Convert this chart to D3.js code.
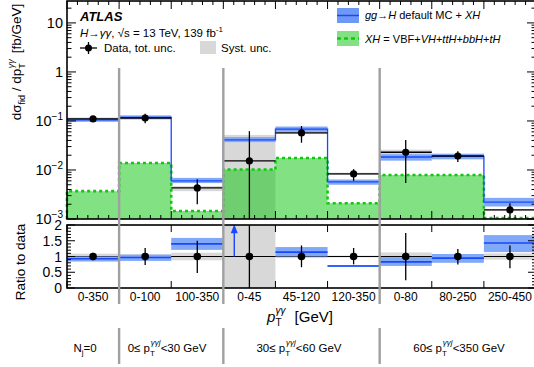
<!DOCTYPE html>
<html>
<head>
<meta charset="utf-8">
<script src="https://cdn.jsdelivr.net/npm/d3@7"></script>
<style>
  body { margin: 0; background: #fff; }
  text { font-family: "Liberation Sans", Arial, Helvetica, sans-serif; fill: #000; }
</style>
</head>
<body>
<div id="svg-container"></div>
<script>
/// DATA

const binLabels = ["0-350", "0-100", "100-350", "0-45", "45-120", "120-350", "0-80", "80-250", "250-450"]
const groupEdges = [1, 3, 6]

const dataVal = [0.11, 0.115, 0.0043, 0.0153, 0.057, 0.0083, 0.023, 0.0193, 0.00153]
const dataUp = [0.122, 0.14, 0.0065, 0.062, 0.079, 0.0104, 0.041, 0.024, 0.0021]
const dataDn = [0.099, 0.09, 0.002, 0.001, 0.036, 0.006, 0.0054, 0.0146, 0.00105]
const systLo = [0.102, 0.108, 0.0037, 0.001, 0.054, 0.0079, 0.0203, 0.0185, 0.00145]
const systHi = [0.118, 0.124, 0.0047, 0.052, 0.061, 0.0088, 0.026, 0.0202, 0.0016]

const predVal = [0.105, 0.118, 0.006, 0.041, 0.068, 0.0057, 0.0184, 0.019, 0.0022]
const predLo = [0.096, 0.108, 0.0054, 0.037, 0.06, 0.005, 0.0155, 0.0165, 0.0018]
const predHi = [0.114, 0.13, 0.0069, 0.047, 0.077, 0.0064, 0.021, 0.0215, 0.0027]

const xhVal = [0.0037, 0.0139, 0.00146, 0.0102, 0.0176, 0.0021, 0.0079, 0.0079, 0.00105]

const ratioPred = [0.93, 0.97, 1.4, null, 1.14, 0.7, 0.83, 0.95, 1.43]
const ratioPredLo = [0.84, 0.86, 1.21, null, 1.0, 0.67, 0.7, 0.8, 1.14]
const ratioPredHi = [1.0, 1.06, 1.59, null, 1.3, 0.73, 0.98, 1.08, 1.68]
const ratioDataLo = [0.88, 0.73, 0.48, 0, 0.66, 0.75, 0.25, 0.75, 0.63]
const ratioDataHi = [1.12, 1.27, 1.5, 2, 1.35, 1.27, 1.75, 1.24, 1.35]
const ratioSystLo = [0.91, 0.93, 0.88, 0, 0.95, 0.97, 0.87, 0.96, 0.9]
const ratioSystHi = [1.09, 1.07, 1.12, 2, 1.05, 1.03, 1.13, 1.04, 1.1]

const yMainTicks = [0.001, 0.01, 0.1, 1, 10]
const yRatioTicks = [0, 0.5, 1, 1.5, 2]

const width = 534
const height = 367

const blueFill = "#82a9f8"
const blueLine = "#1848ff"
const greenFill = "#82e182"
const greenLine = "#10c810"
const grayFill = "#d8d8d8"
const sepColor = "#a0a0a0"

/// SCALES

const xScale = d3.scaleLinear().domain([0, 9]).range([67, 536])
const yMain = d3.scaleLog().domain([0.001, 28]).range([219, 1])
const yRatio = d3.scaleLinear().domain([0, 2]).range([288, 225])

const svg = d3
  .select("#svg-container")
  .append("svg")
  .attr("width", width)
  .attr("height", height)
  .attr("viewBox", [0, 0, width, height])

const bins = d3.range(9)

/// MAIN PANEL

const main = svg.append("g")

// step points: one per bin plus closing point
const stepPoints = (vals) => bins.map((i) => [i, vals[i]]).concat([[9, vals[8]]])

// systematic bands first, the green goes over them with transparency
main
  .selectAll(".syst")
  .data(bins)
  .join("rect")
  .attr("x", (i) => xScale(i))
  .attr("width", xScale(1) - xScale(0))
  .attr("y", (i) => yMain(systHi[i]))
  .attr("height", (i) => yMain(systLo[i]) - yMain(systHi[i]))
  .attr("fill", grayFill)

const greenArea = d3
  .area()
  .curve(d3.curveStepAfter)
  .x((d) => xScale(d[0]))
  .y0(yMain(0.001))
  .y1((d) => yMain(d[1]))

main
  .append("path")
  .attr("d", greenArea(stepPoints(xhVal)))
  .attr("fill", "rgb(5,195,5)")
  .attr("fill-opacity", 0.5)

const greenOutline = [[0, 0.001]].concat(stepPoints(xhVal)).concat([[9, 0.001]])
const stepLine = d3
  .line()
  .curve(d3.curveStepAfter)
  .x((d) => xScale(d[0]))
  .y((d) => yMain(d[1]))

main
  .append("path")
  .attr("d", stepLine(greenOutline))
  .attr("fill", "none")
  .attr("stroke", greenLine)
  .attr("stroke-width", 2.6)
  .attr("stroke-dasharray", "3,3")

main
  .selectAll(".predband")
  .data(bins)
  .join("rect")
  .attr("x", (i) => xScale(i))
  .attr("width", xScale(1) - xScale(0))
  .attr("y", (i) => yMain(predHi[i]))
  .attr("height", (i) => yMain(predLo[i]) - yMain(predHi[i]))
  .attr("fill", blueFill)

main
  .append("path")
  .attr("d", stepLine(stepPoints(predVal)))
  .attr("fill", "none")
  .attr("stroke", blueLine)
  .attr("stroke-width", 1.3)

// data
main
  .selectAll(".dx")
  .data(bins)
  .join("line")
  .attr("x1", (i) => xScale(i))
  .attr("x2", (i) => xScale(i + 1))
  .attr("y1", (i) => yMain(dataVal[i]))
  .attr("y2", (i) => yMain(dataVal[i]))
  .attr("stroke", "#000")
  .attr("stroke-width", 1.3)

main
  .selectAll(".dy")
  .data(bins)
  .join("line")
  .attr("x1", (i) => xScale(i + 0.5))
  .attr("x2", (i) => xScale(i + 0.5))
  .attr("y1", (i) => yMain(dataUp[i]))
  .attr("y2", (i) => yMain(dataDn[i]))
  .attr("stroke", "#000")
  .attr("stroke-width", 1.3)

main
  .selectAll(".dot")
  .data(bins)
  .join("circle")
  .attr("cx", (i) => xScale(i + 0.5))
  .attr("cy", (i) => yMain(dataVal[i]))
  .attr("r", 3.6)
  .attr("fill", "#000")

/// RATIO PANEL

const ratio = svg.append("g")

ratio
  .selectAll(".rsyst")
  .data(bins)
  .join("rect")
  .attr("x", (i) => xScale(i))
  .attr("width", xScale(1) - xScale(0))
  .attr("y", (i) => yRatio(ratioSystHi[i]))
  .attr("height", (i) => yRatio(ratioSystLo[i]) - yRatio(ratioSystHi[i]))
  .attr("fill", grayFill)

ratio
  .append("line")
  .attr("x1", xScale(0))
  .attr("x2", xScale(9))
  .attr("y1", yRatio(1))
  .attr("y2", yRatio(1))
  .attr("stroke", "#000")
  .attr("stroke-width", 1.2)

const rbins = bins.filter((i) => ratioPred[i] !== null)

ratio
  .selectAll(".rband")
  .data(rbins)
  .join("rect")
  .attr("x", (i) => xScale(i))
  .attr("width", xScale(1) - xScale(0))
  .attr("y", (i) => yRatio(ratioPredHi[i]))
  .attr("height", (i) => yRatio(ratioPredLo[i]) - yRatio(ratioPredHi[i]))
  .attr("fill", blueFill)

ratio
  .selectAll(".rline")
  .data(rbins)
  .join("line")
  .attr("x1", (i) => xScale(i))
  .attr("x2", (i) => xScale(i + 1))
  .attr("y1", (i) => yRatio(ratioPred[i]))
  .attr("y2", (i) => yRatio(ratioPred[i]))
  .attr("stroke", blueLine)
  .attr("stroke-width", 1.6)

// off-scale arrow for bin 0-45
const arrowBin = bins.filter((i) => ratioPred[i] === null)
ratio
  .selectAll(".arrow")
  .data(arrowBin)
  .join("line")
  .attr("x1", (i) => xScale(i + 0.21))
  .attr("x2", (i) => xScale(i + 0.21))
  .attr("y1", yRatio(1))
  .attr("y2", yRatio(1.88))
  .attr("stroke", blueLine)
  .attr("stroke-width", 1.4)
ratio
  .selectAll(".arrowhead")
  .data(arrowBin)
  .join("path")
  .attr("d", (i) => {
    const x = xScale(i + 0.21)
    const y = yRatio(1.96)
    return `M${x},${y - 2} L${x - 3.5},${y + 7} L${x + 3.5},${y + 7} Z`
  })
  .attr("fill", blueLine)

ratio
  .selectAll(".rdy")
  .data(bins)
  .join("line")
  .attr("x1", (i) => xScale(i + 0.5))
  .attr("x2", (i) => xScale(i + 0.5))
  .attr("y1", (i) => yRatio(ratioDataHi[i]))
  .attr("y2", (i) => yRatio(ratioDataLo[i]))
  .attr("stroke", "#000")
  .attr("stroke-width", 1.3)

ratio
  .selectAll(".rdot")
  .data(bins)
  .join("circle")
  .attr("cx", (i) => xScale(i + 0.5))
  .attr("cy", yRatio(1))
  .attr("r", 3.8)
  .attr("fill", "#000")

/// AXES AND FRAMES

const axes = svg.append("g").attr("stroke", "#000")

const frame = (y0, y1) =>
  axes
    .append("rect")
    .attr("x", xScale(0))
    .attr("y", y0)
    .attr("width", xScale(9) - xScale(0))
    .attr("height", y1 - y0)
    .attr("fill", "none")
    .attr("stroke-width", 1.6)

frame(yMain.range()[1], yMain.range()[0])
frame(yRatio.range()[1], yRatio.range()[0])

const tick = (x1, y1, x2, y2, w) =>
  axes
    .append("line")
    .attr("x1", x1)
    .attr("y1", y1)
    .attr("x2", x2)
    .attr("y2", y2)
    .attr("stroke-width", w || 1)

// x ticks on main panel (top and bottom) and ratio panel
d3.range(0, 9.01, 0.2).forEach((v) => {
  const x = xScale(v)
  const major = Math.abs(v - Math.round(v)) < 0.01
  const len = major ? 8 : 4
  tick(x, yMain(0.001), x, yMain(0.001) - len)
  tick(x, yMain.range()[1], x, yMain.range()[1] + len)
  if (major) {
    tick(x, yRatio(0), x, yRatio(0) - 7)
    tick(x, yRatio(2), x, yRatio(2) + 7)
  }
})

// log y ticks
d3.range(-3, 2).forEach((d) => {
  d3.range(1, 10).forEach((k) => {
    const v = k * Math.pow(10, d)
    if (v > yMain.domain()[1]) return
    const len = k === 1 ? 9 : 4.5
    tick(xScale(0), yMain(v), xScale(0) + len, yMain(v))
    tick(xScale(9), yMain(v), xScale(9) - len, yMain(v))
  })
})

// ratio y ticks
d3.range(0, 2.001, 0.1).forEach((v) => {
  const major = Math.abs(v * 2 - Math.round(v * 2)) < 0.01
  const len = major ? 8 : 4
  tick(xScale(0), yRatio(v), xScale(0) + len, yRatio(v))
  tick(xScale(9), yRatio(v), xScale(9) - len, yRatio(v))
})

const labels = svg.append("g")

const mainTickLabels = labels
  .selectAll(".ylab")
  .data(yMainTicks)
  .join("text")
  .attr("x", 63)
  .attr("y", (v) => yMain(v) + 5)
  .attr("text-anchor", "end")
  .style("font-size", "14.5px")
mainTickLabels.each(function (v) {
  const t = d3.select(this)
  if (v === 1 || v === 10) {
    t.text(v)
  } else {
    t.append("tspan").text("10")
    t.append("tspan")
      .attr("dy", -6)
      .style("font-size", "10px")
      .text("\u2212" + Math.round(-Math.log10(v)))
  }
})

labels
  .selectAll(".rlab")
  .data(yRatioTicks)
  .join("text")
  .attr("x", 62)
  .attr("y", (v) => yRatio(v) + 5)
  .attr("text-anchor", "end")
  .style("font-size", "14px")
  .text((v) => v)

labels
  .selectAll(".xlab")
  .data(bins)
  .join("text")
  .attr("x", (i) => xScale(i + 0.5))
  .attr("y", 301)
  .attr("text-anchor", "middle")
  .style("font-size", "12px")
  .text((i) => binLabels[i])

// y axis titles
const yTitle = labels
  .append("text")
  .attr("transform", "translate(21,62) rotate(-90)")
  .attr("text-anchor", "middle")
  .style("font-size", "13.5px")
yTitle.append("tspan").text("d\u03c3")
yTitle.append("tspan").attr("dy", 4).style("font-size", "9px").text("fid")
yTitle.append("tspan").attr("dy", -4).text(" / dp")
yTitle.append("tspan").attr("dy", 4).style("font-size", "9px").text("T")
yTitle
  .append("tspan")
  .attr("dy", -11)
  .attr("dx", -5)
  .style("font-size", "9px")
  .style("font-style", "italic")
  .text("\u03b3\u03b3")
yTitle.append("tspan").attr("dy", 7).attr("dx", 6).text("[fb/GeV]")

labels
  .append("text")
  .attr("transform", "translate(25,262) rotate(-90)")
  .attr("text-anchor", "middle")
  .style("font-size", "13.5px")
  .text("Ratio to data")

// x title
const xTitle = labels
  .append("text")
  .attr("x", 300)
  .attr("y", 322)
  .attr("text-anchor", "middle")
  .style("font-size", "15px")
xTitle.append("tspan").style("font-style", "italic").text("p")
xTitle.append("tspan").attr("dy", 4).style("font-size", "10px").text("T")
xTitle
  .append("tspan")
  .attr("dy", -12)
  .attr("dx", -6)
  .style("font-size", "10px")
  .style("font-style", "italic")
  .text("\u03b3\u03b3")
xTitle.append("tspan").attr("dy", 8).attr("dx", 9).text("[GeV]")

/// GROUP SEPARATORS

groupEdges.forEach((e) => {
  svg
    .append("line")
    .attr("x1", xScale(e))
    .attr("x2", xScale(e))
    .attr("y1", 68)
    .attr("y2", 304)
    .attr("stroke", sepColor)
    .attr("stroke-width", 2.4)
  svg
    .append("line")
    .attr("x1", xScale(e))
    .attr("x2", xScale(e))
    .attr("y1", 328)
    .attr("y2", 364)
    .attr("stroke", sepColor)
    .attr("stroke-width", 2.4)
})

// category labels under the axis
const catX = [85, 167, 299, 459]
const catY = 352
const cat0 = labels
  .append("text")
  .attr("x", catX[0])
  .attr("y", catY)
  .attr("text-anchor", "middle")
  .style("font-size", "11.5px")
cat0.append("tspan").text("N")
cat0.append("tspan").attr("dy", 3).style("font-size", "8px").text("j")
cat0.append("tspan").attr("dy", -3).text("=0")

const rangeLabel = (x, lo, hi) => {
  const t = labels
    .append("text")
    .attr("x", x)
    .attr("y", catY)
    .attr("text-anchor", "middle")
    .style("font-size", "11.5px")
  t.append("tspan").text(lo + "\u2264 p")
  t.append("tspan").attr("dy", 4).style("font-size", "8px").text("T")
  t.append("tspan")
    .attr("dy", -11)
    .attr("dx", -4)
    .style("font-size", "8px")
    .style("font-style", "italic")
    .text("\u03b3\u03b3j")
  t.append("tspan").attr("dy", 7).text("<" + hi + " GeV")
}
rangeLabel(catX[1], "0", "30")
rangeLabel(catX[2], "30", "60")
rangeLabel(catX[3], "60", "350")

/// LEGEND

const legend = svg.append("g")

legend
  .append("text")
  .attr("x", 80)
  .attr("y", 21)
  .style("font-size", "13px")
  .style("font-weight", "bold")
  .style("font-style", "italic")
  .text("ATLAS")

const proc = legend
  .append("text")
  .attr("x", 80)
  .attr("y", 37)
  .style("font-size", "11.5px")
proc.append("tspan").style("font-style", "italic").text("H\u2192\u03b3\u03b3")
proc.append("tspan").text(", \u221as = 13 TeV, 139 fb")
proc.append("tspan").attr("dy", -5).style("font-size", "8px").text("-1")

legend.append("line").attr("x1", 80).attr("x2", 97).attr("y1", 48).attr("y2", 48).attr("stroke", "#000").attr("stroke-width", 1.3)
legend.append("line").attr("x1", 88.5).attr("x2", 88.5).attr("y1", 42).attr("y2", 54).attr("stroke", "#000").attr("stroke-width", 1.3)
legend.append("circle").attr("cx", 88.5).attr("cy", 48).attr("r", 3.5).attr("fill", "#000")
legend.append("text").attr("x", 104).attr("y", 52).style("font-size", "11.5px").text("Data, tot. unc.")

legend.append("rect").attr("x", 200).attr("y", 41).attr("width", 16).attr("height", 13).attr("fill", grayFill)
legend.append("text").attr("x", 221).attr("y", 52).style("font-size", "11.5px").text("Syst. unc.")

legend.append("rect").attr("x", 337).attr("y", 8).attr("width", 22).attr("height", 15).attr("fill", "#6e98f5")
legend.append("line").attr("x1", 337).attr("x2", 359).attr("y1", 15.5).attr("y2", 15.5).attr("stroke", blueLine).attr("stroke-width", 1.5)
const lab1 = legend.append("text").attr("x", 365).attr("y", 19).style("font-size", "11px")
lab1.append("tspan").style("font-style", "italic").text("gg\u2192H")
lab1.append("tspan").text(" default MC + ")
lab1.append("tspan").style("font-style", "italic").text("XH")

legend.append("rect").attr("x", 337).attr("y", 31).attr("width", 22).attr("height", 15).attr("fill", greenFill)
legend.append("line").attr("x1", 337).attr("x2", 359).attr("y1", 38.5).attr("y2", 38.5).attr("stroke", greenLine).attr("stroke-width", 2.6).attr("stroke-dasharray", "4,3")
const lab2 = legend.append("text").attr("x", 365).attr("y", 43).style("font-size", "11px")
lab2.append("tspan").style("font-style", "italic").text("XH")
lab2.append("tspan").text(" = VBF+")
lab2.append("tspan").style("font-style", "italic").text("VH")
lab2.append("tspan").text("+")
lab2.append("tspan").style("font-style", "italic").text("ttH")
lab2.append("tspan").text("+")
lab2.append("tspan").style("font-style", "italic").text("bbH")
lab2.append("tspan").text("+")
lab2.append("tspan").style("font-style", "italic").text("tH")
</script>
</body>
</html>
